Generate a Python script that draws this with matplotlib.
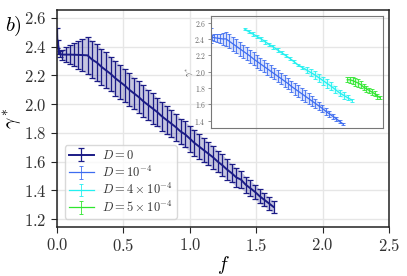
import matplotlib
matplotlib.use("Agg")
import matplotlib.pyplot as plt

# D = 0 (main panel)
f0 = [0.0, 0.01, 0.02, 0.04, 0.07, 0.10, 0.13, 0.16, 0.19, 0.23,
      0.265, 0.30, 0.335, 0.37, 0.405, 0.44, 0.475, 0.51, 0.545, 0.58,
      0.615, 0.65, 0.685, 0.72, 0.755, 0.79, 0.825, 0.86, 0.895, 0.93,
      0.965, 1.00, 1.035, 1.07, 1.105, 1.14, 1.175, 1.21, 1.245, 1.28,
      1.315, 1.35, 1.385, 1.42, 1.455, 1.49, 1.525, 1.56, 1.595, 1.63]
g0 = [2.46, 2.40, 2.35, 2.345, 2.345, 2.345, 2.344, 2.343, 2.342, 2.34,
      2.31, 2.29, 2.26, 2.235, 2.21, 2.18, 2.155, 2.13, 2.10, 2.075,
      2.05, 2.02, 1.995, 1.97, 1.945, 1.915, 1.89, 1.865, 1.84, 1.81,
      1.79, 1.76, 1.73, 1.705, 1.68, 1.655, 1.63, 1.60, 1.575, 1.545,
      1.52, 1.49, 1.475, 1.44, 1.415, 1.39, 1.36, 1.335, 1.31, 1.285]
e0 = [0.07, 0.05, 0.02, 0.035, 0.05, 0.065, 0.08, 0.095, 0.11, 0.13,
      0.13, 0.13, 0.125, 0.125, 0.12, 0.12, 0.12, 0.115, 0.115, 0.11,
      0.11, 0.11, 0.105, 0.105, 0.10, 0.10, 0.10, 0.095, 0.095, 0.09,
      0.09, 0.09, 0.09, 0.085, 0.085, 0.08, 0.08, 0.075, 0.075, 0.07,
      0.065, 0.065, 0.06, 0.055, 0.055, 0.05, 0.05, 0.045, 0.045, 0.04]

# D = 1e-4 (inset)
f1 = [0.0, 0.02, 0.05, 0.09, 0.13, 0.17, 0.22, 0.27, 0.32, 0.37,
      0.42, 0.47, 0.52, 0.57, 0.62, 0.67, 0.72, 0.77, 0.82, 0.87,
      0.92, 0.97, 1.02, 1.07, 1.12, 1.17, 1.22, 1.27, 1.32, 1.37,
      1.42, 1.47, 1.52, 1.57, 1.62, 1.67, 1.72, 1.77, 1.82, 1.87, 1.92]
g1 = [2.44, 2.42, 2.415, 2.41, 2.405, 2.40, 2.40, 2.37, 2.34, 2.31,
      2.28, 2.25, 2.22, 2.19, 2.155, 2.125, 2.095, 2.065, 2.035, 2.005,
      1.975, 1.945, 1.915, 1.885, 1.855, 1.82, 1.79, 1.76, 1.73, 1.70,
      1.67, 1.64, 1.61, 1.58, 1.55, 1.515, 1.485, 1.455, 1.425, 1.39, 1.36]
e1 = [0.095, 0.03, 0.04, 0.05, 0.06, 0.07, 0.085, 0.085, 0.085, 0.085,
      0.085, 0.08, 0.08, 0.08, 0.08, 0.08, 0.075, 0.075, 0.075, 0.075,
      0.07, 0.07, 0.07, 0.07, 0.065, 0.065, 0.07, 0.075, 0.075, 0.07,
      0.065, 0.06, 0.055, 0.05, 0.045, 0.04, 0.035, 0.03, 0.025, 0.02, 0.015]

# D = 4e-4 (inset)
f4 = [0.49, 0.55, 0.61, 0.67, 0.73, 0.79, 0.85, 0.91, 0.97, 1.03,
      1.09, 1.15, 1.21, 1.27, 1.33, 1.39, 1.45, 1.51, 1.57, 1.63,
      1.69, 1.75, 1.81, 1.87, 1.93, 1.99, 2.05]
g4 = [2.52, 2.49, 2.46, 2.43, 2.40, 2.365, 2.33, 2.30, 2.265, 2.23,
      2.195, 2.16, 2.12, 2.08, 2.05, 2.02, 1.99, 1.96, 1.925, 1.89,
      1.855, 1.82, 1.78, 1.74, 1.71, 1.68, 1.65]
e4 = [0.015, 0.02, 0.02, 0.02, 0.025, 0.025, 0.02, 0.02, 0.02, 0.02,
      0.02, 0.015, 0.02, 0.015, 0.02, 0.035, 0.045, 0.05, 0.05, 0.05,
      0.05, 0.05, 0.045, 0.04, 0.04, 0.03, 0.02]

# D = 5e-4 (inset)
f5 = [1.98, 2.02, 2.06, 2.10, 2.14, 2.18, 2.22, 2.26, 2.30, 2.34,
      2.38, 2.42, 2.46]
g5 = [1.90, 1.90, 1.89, 1.875, 1.86, 1.84, 1.81, 1.79, 1.77, 1.75,
      1.73, 1.70, 1.68]
e5 = [0.03, 0.04, 0.045, 0.045, 0.045, 0.04, 0.04, 0.035, 0.035, 0.035,
      0.03, 0.03, 0.02]

labels = [r"$D=0$", r"$D=10^{-4}$", r"$D=4\times10^{-4}$", r"$D=5\times10^{-4}$"]
colors = ["#1b1b86", "#3d6cf0", "#22f0f0", "#2ee62e"]

plt.rcParams["font.family"] = "cmr10"
plt.rcParams["mathtext.fontset"] = "cm"
plt.rcParams["axes.formatter.use_mathtext"] = True

fig = plt.figure(figsize=(4.07, 2.76), dpi=100)
ax = fig.add_axes([0.140, 0.1775, 0.816, 0.786])

h0 = ax.errorbar(f0, g0, yerr=e0, color=colors[0], lw=1.4, elinewidth=0.9,
                 capsize=2, capthick=0.9)
ax.fill_between(f0, [g - e for g, e in zip(g0, e0)], [g + e for g, e in zip(g0, e0)],
                color=colors[0], alpha=0.25, lw=0)

ax.set_xlim(0, 2.5)
ax.set_ylim(1.145, 2.655)
ax.set_xticks([0.0, 0.5, 1.0, 1.5, 2.0, 2.5])
ax.set_yticks([1.2, 1.4, 1.6, 1.8, 2.0, 2.2, 2.4, 2.6])
ax.grid(True, color="#e6e6e6", lw=1)
ax.set_axisbelow(True)
ax.tick_params(labelsize=12, colors="#262626", length=4, width=0.8)
ax.tick_params(axis="both", labelcolor="#333333")
for s in ax.spines.values():
    s.set_color("#222222")
    s.set_linewidth(1.1)
ax.set_xlabel(r"$f$", fontsize=14, labelpad=0)
ax.set_ylabel(r"$\gamma^*$", fontsize=14, labelpad=-1)
fig.text(0.012, 0.905, r"$b)$", fontsize=15, va="center")

# inset
axi = fig.add_axes([0.518, 0.536, 0.423, 0.406])
axi.patch.set_alpha(0)
hs = []
for f, g, e, c in [(f1, g1, e1, colors[1]), (f4, g4, e4, colors[2]), (f5, g5, e5, colors[3])]:
    h = axi.errorbar(f, g, yerr=e, color=c, lw=0.9, elinewidth=0.6,
                     capsize=1.2, capthick=0.6)
    axi.fill_between(f, [a - b for a, b in zip(g, e)], [a + b for a, b in zip(g, e)],
                     color=c, alpha=0.2, lw=0)
    hs.append(h)
axi.set_xlim(0, 2.5)
axi.set_ylim(1.31, 2.68)
axi.set_yticks([1.4, 1.6, 1.8, 2.0, 2.2, 2.4, 2.6])
axi.set_xticks([])
axi.tick_params(labelsize=5.5, colors="#666666", length=2, width=0.5, pad=1.5)
for s in axi.spines.values():
    s.set_color("#777777")
    s.set_linewidth(0.8)
axi.set_ylabel(r"$\gamma^*$", fontsize=6, labelpad=-1, color="#444444")

leg = ax.legend([h0] + hs, labels, loc="lower left", fontsize=9,
                bbox_to_anchor=(0.005, 0.01), frameon=True, handlelength=2.0,
                labelspacing=0.2, borderpad=0.3, handletextpad=0.7)
leg.get_frame().set_edgecolor("#d0d0d0")
for t in leg.get_texts():
    t.set_color("#333333")
# thicker, lighter handle lines for the inset series
lines = [l for l in leg.get_lines() if len(l.get_xdata()) == 2 and l.get_xdata()[0] != l.get_xdata()[1]]
for i, l in enumerate(lines):
    if i > 0:
        l.set_linewidth(2.0)
        l.set_alpha(0.8)

fig.savefig("out.png", dpi=100)
